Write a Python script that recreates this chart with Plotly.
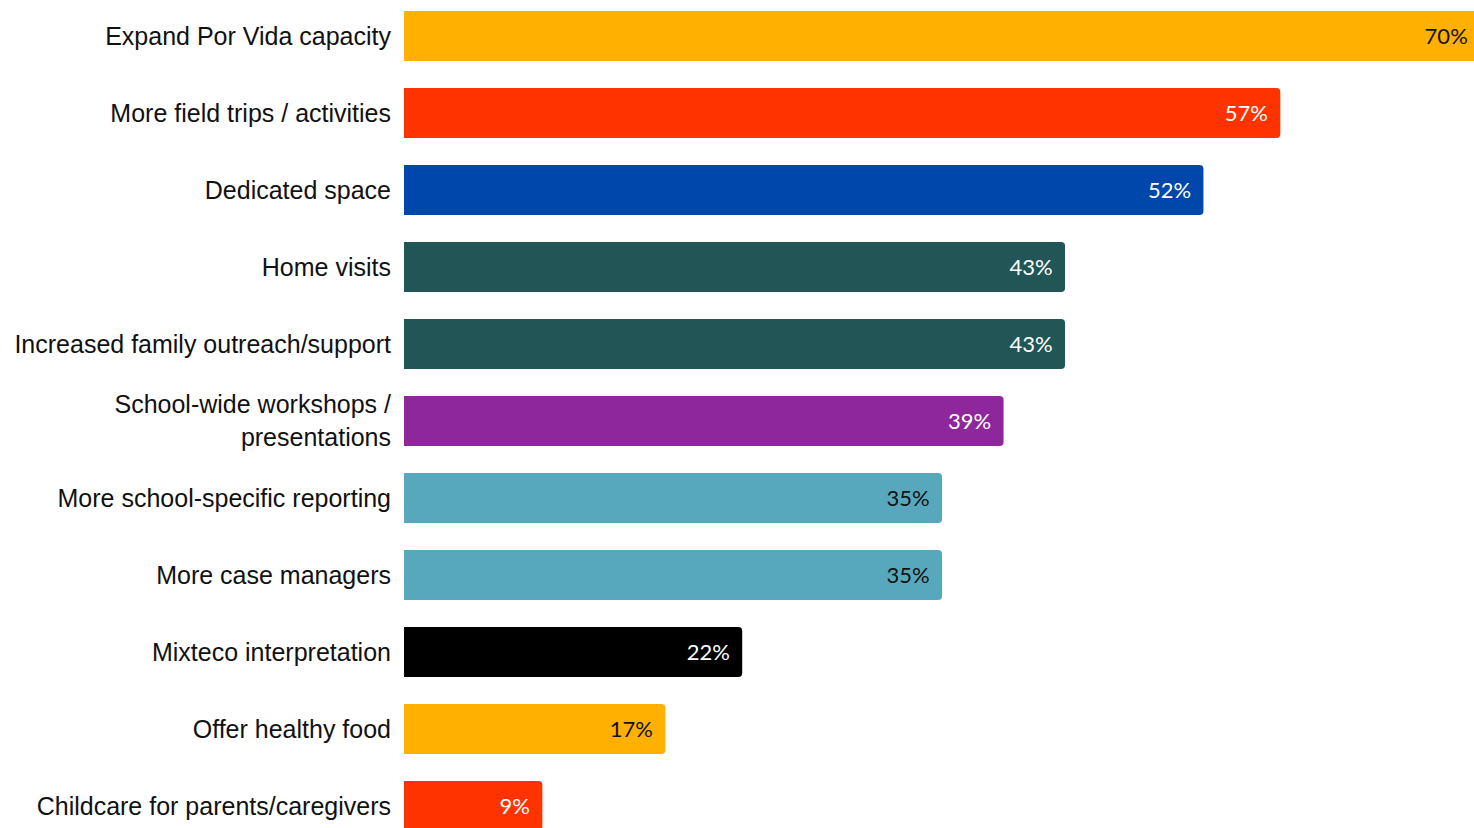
import plotly.graph_objects as go

categories = [
    "Expand Por Vida capacity",
    "More field trips / activities",
    "Dedicated space",
    "Home visits",
    "Increased family outreach/support",
    "School-wide workshops /<br>presentations",
    "More school-specific reporting",
    "More case managers",
    "Mixteco interpretation",
    "Offer healthy food",
    "Childcare for parents/caregivers",
]
values = [70, 57, 52, 43, 43, 39, 35, 35, 22, 17, 9]
bar_colors = ["#FFB000", "#FF3300", "#0047AB", "#225656", "#225656", "#8E279C",
              "#58A8BD", "#58A8BD", "#000000", "#FFB000", "#FF3300"]
text_colors = ["#111111", "#FFFFFF", "#FFFFFF", "#FFFFFF", "#FFFFFF", "#FFFFFF",
               "#111111", "#111111", "#FFFFFF", "#111111", "#FFFFFF"]

labels = [f"{v}%\u00a0\u2009" for v in values]

fig = go.Figure(go.Bar(
    x=values,
    y=categories,
    orientation="h",
    marker=dict(color=bar_colors, line=dict(width=0)),
    text=labels,
    textposition="inside",
    insidetextanchor="end",
    textangle=0,
    insidetextfont=dict(family="Lato", size=22, color=text_colors),
    hoverinfo="skip",
))

fig.update_layout(
    width=1474,
    height=828,
    margin=dict(l=404, r=0, t=0, b=0),
    paper_bgcolor="white",
    plot_bgcolor="white",
    bargap=0.35,
    barcornerradius=4,
    showlegend=False,
)
fig.update_xaxes(range=[0, 69.6], visible=False, showgrid=False, zeroline=False, fixedrange=True)
fig.update_yaxes(
    type="category",
    range=[10.286, -0.4675],
    showgrid=False,
    zeroline=False,
    showline=False,
    ticks="",
    ticklabelstandoff=12,
    tickfont=dict(family="Liberation Sans, Arial", size=25, color="#111111"),
    automargin=False,
)

fig.write_html(
    "out.html",
    config={"displayModeBar": False, "staticPlot": True},
    post_script="document.body.style.margin='0';document.body.style.overflow='hidden';",
)
